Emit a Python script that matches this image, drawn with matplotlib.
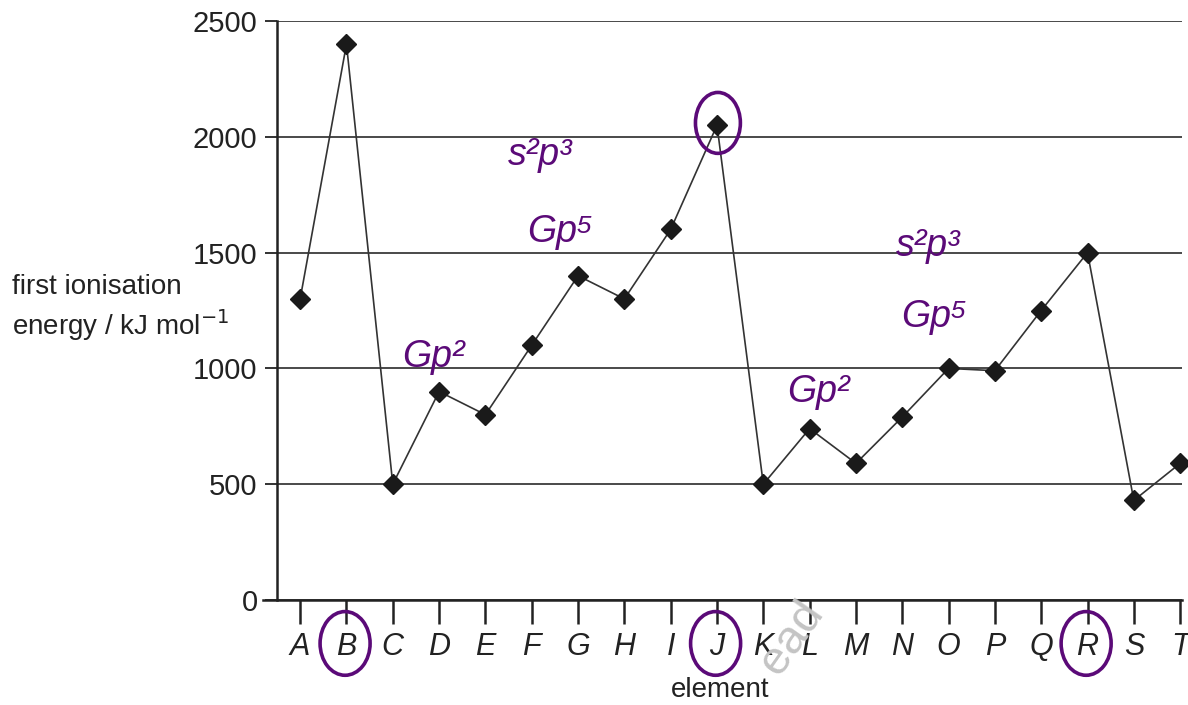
import matplotlib
matplotlib.use('Agg')
import matplotlib.pyplot as plt
from matplotlib.patches import Ellipse
import matplotlib.transforms as mtransforms

# chart data
elements = ['A', 'B', 'C', 'D', 'E', 'F', 'G', 'H', 'I', 'J',
            'K', 'L', 'M', 'N', 'O', 'P', 'Q', 'R', 'S', 'T']
energies = [1300, 2400, 500, 900, 800, 1100, 1400, 1300, 1600, 2050,
            500, 740, 590, 790, 1000, 990, 1250, 1500, 430, 590]
yticks = [0, 500, 1000, 1500, 2000, 2500]

# handwritten notes: (text, x in element units, y in kJ/mol)
notes = [('Gp²', 2.87, 1050), ('s²p³', 5.18, 1920), ('Gp⁵', 5.61, 1590),
         ('Gp²', 11.18, 900), ('s²p³', 13.56, 1530), ('Gp⁵', 13.69, 1220)]
circled_labels = ['B', 'J', 'R']
circled_point = 'J'

ink = '#5b0a78'


def main():
        plt.rcParams['font.family'] = ['Liberation Sans', 'DejaVu Sans']

        fig = plt.figure(figsize=(11.88, 7.05), dpi=100)
        ax = fig.add_axes([277/1188, 105/705, 905/1188, 579/705])

        xs = list(range(len(elements)))
        ax.plot(xs, energies, color='#333333', lw=1.2, marker='D', markersize=10,
                markerfacecolor='#1a1a1a', markeredgecolor='#1a1a1a', zorder=3, clip_on=False)

        ax.set_xlim(-0.5, len(elements) - 0.96)
        ax.set_ylim(0, 2500)
        ax.set_yticks(yticks)
        ax.set_yticklabels([str(v) for v in yticks], fontsize=21, color='#222222')
        ax.set_xticks(xs)
        ax.set_xticklabels(elements, fontsize=22, style='italic', color='#222222')

        ax.yaxis.grid(True, color='#3a3a3a', lw=1.3)
        ax.set_axisbelow(True)
        ax.tick_params(axis='y', length=9, width=1.3, pad=5, color='#222222')
        ax.tick_params(axis='x', length=17, width=1.8, pad=6, color='#222222')

        for s in ['top', 'right']:
                ax.spines[s].set_visible(False)
        ax.spines['left'].set_linewidth(1.8)
        ax.spines['bottom'].set_linewidth(1.8)
        ax.spines['left'].set_color('#222222')
        ax.spines['bottom'].set_color('#222222')
        ax.spines['bottom'].set_bounds(-0.5 - 0.3, len(elements) - 0.96)

        fig.text(12/1188, 1 - 287/705, 'first ionisation', fontsize=20, color='#222222',
                 ha='left', va='center')
        fig.text(12/1188, 1 - 325/705, 'energy / kJ mol$^{-1}$', fontsize=20, color='#222222',
                 ha='left', va='center')
        fig.text(720/1188, 1 - 690/705, 'element', fontsize=20, color='#222222',
                 ha='center', va='center')

        # handwritten annotations
        for txt, x, y in notes:
                ax.text(x, y, txt, color=ink, fontsize=27, ha='center', va='center',
                        fontstyle='italic', zorder=4)

        trans = mtransforms.blended_transform_factory(ax.transData, ax.transAxes)
        for lab in circled_labels:
                i = elements.index(lab)
                e = Ellipse((i - 0.03, -0.075), 1.08, 0.11, transform=trans, fill=False,
                            edgecolor=ink, lw=2.6, clip_on=False, zorder=4)
                ax.add_patch(e)

        j = elements.index(circled_point)
        ax.add_patch(Ellipse((j + 0.02, energies[j] + 10), 0.97, 263, fill=False,
                             edgecolor=ink, lw=2.6, clip_on=False, zorder=4))

        # faint watermark
        fig.text(792/1188, 1 - 638/705, 'ead', fontsize=34, color='#c4c4c4', rotation=55,
                 ha='center', va='center', zorder=0)

        fig.savefig('out.png', dpi=100)


if __name__ == '__main__':
        main()
